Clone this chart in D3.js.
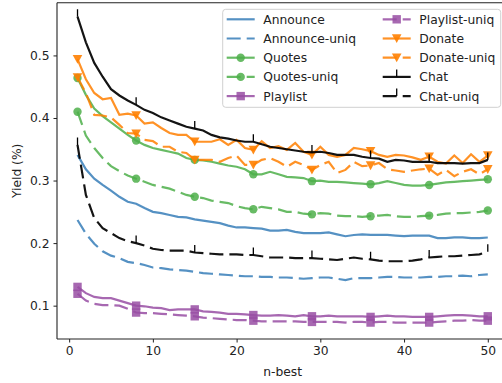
<!DOCTYPE html>
<html><head><meta charset="utf-8">
<script src="https://cdn.jsdelivr.net/npm/d3@7"></script>
<style>body{margin:0;background:#fff}svg{display:block;font-family:"DejaVu Sans",sans-serif}</style>
</head><body><svg id="c" width="502" height="383"></svg>
<script>
const nBest = [1,2,3,4,5,6,7,8,9,10,11,12,13,14,15,16,17,18,19,20,21,22,23,24,25,26,27,28,29,30,31,32,33,34,35,36,37,38,39,40,41,42,43,44,45,46,47,48,49,50];
const xTicks = [0,10,20,30,40,50];
const yTicks = [0.1,0.2,0.3,0.4,0.5];
const announce = [0.341,0.318,0.303,0.293,0.284,0.274,0.266,0.263,0.256,0.250,0.248,0.245,0.242,0.241,0.238,0.236,0.234,0.232,0.228,0.225,0.225,0.224,0.223,0.220,0.220,0.221,0.218,0.216,0.216,0.216,0.217,0.214,0.211,0.213,0.214,0.213,0.213,0.213,0.212,0.211,0.212,0.212,0.212,0.208,0.208,0.209,0.209,0.208,0.208,0.209];
const announceUniq = [0.237,0.215,0.199,0.187,0.180,0.176,0.170,0.168,0.165,0.161,0.160,0.158,0.157,0.156,0.154,0.152,0.151,0.150,0.149,0.148,0.147,0.147,0.146,0.146,0.145,0.145,0.144,0.143,0.144,0.145,0.145,0.143,0.141,0.144,0.144,0.144,0.145,0.146,0.146,0.145,0.145,0.145,0.146,0.146,0.147,0.147,0.148,0.147,0.149,0.150];
const quotes = [0.464,0.437,0.415,0.403,0.393,0.383,0.373,0.364,0.357,0.352,0.349,0.346,0.343,0.336,0.333,0.332,0.330,0.327,0.324,0.322,0.318,0.310,0.310,0.314,0.310,0.306,0.305,0.304,0.299,0.300,0.298,0.298,0.297,0.296,0.295,0.294,0.296,0.299,0.296,0.293,0.292,0.292,0.293,0.295,0.297,0.298,0.299,0.300,0.301,0.302];
const quotesUniq = [0.410,0.372,0.352,0.336,0.323,0.315,0.308,0.303,0.298,0.293,0.290,0.287,0.282,0.277,0.274,0.272,0.268,0.266,0.264,0.259,0.256,0.254,0.258,0.256,0.254,0.250,0.250,0.247,0.246,0.248,0.247,0.244,0.243,0.243,0.242,0.243,0.244,0.245,0.243,0.242,0.242,0.243,0.244,0.245,0.247,0.248,0.248,0.249,0.250,0.252];
const playlist = [0.130,0.120,0.114,0.112,0.112,0.108,0.104,0.100,0.099,0.097,0.096,0.093,0.094,0.094,0.094,0.091,0.090,0.089,0.087,0.087,0.086,0.085,0.084,0.084,0.085,0.084,0.083,0.085,0.083,0.083,0.084,0.083,0.083,0.083,0.083,0.082,0.083,0.084,0.083,0.083,0.082,0.082,0.082,0.083,0.084,0.085,0.085,0.084,0.083,0.083];
const playlistUniq = [0.119,0.108,0.103,0.101,0.101,0.100,0.095,0.089,0.088,0.088,0.087,0.086,0.085,0.084,0.083,0.081,0.080,0.079,0.078,0.077,0.077,0.076,0.075,0.075,0.075,0.075,0.075,0.074,0.074,0.074,0.074,0.074,0.073,0.074,0.074,0.073,0.074,0.074,0.073,0.073,0.073,0.073,0.073,0.074,0.075,0.076,0.076,0.077,0.076,0.076];
const donate = [0.494,0.462,0.440,0.430,0.432,0.405,0.407,0.404,0.391,0.393,0.384,0.376,0.373,0.373,0.362,0.362,0.362,0.366,0.357,0.365,0.352,0.349,0.363,0.352,0.355,0.349,0.360,0.346,0.341,0.354,0.341,0.338,0.341,0.352,0.350,0.347,0.341,0.338,0.341,0.340,0.337,0.333,0.338,0.330,0.327,0.340,0.328,0.342,0.330,0.340];
const donateUniq = [0.465,0.440,0.405,0.404,0.401,0.389,0.376,0.375,0.365,0.363,0.354,0.354,0.346,0.344,0.333,0.333,0.333,0.330,0.336,0.340,0.325,0.325,0.333,0.336,0.330,0.322,0.330,0.325,0.317,0.325,0.330,0.312,0.317,0.330,0.323,0.324,0.328,0.318,0.316,0.314,0.316,0.318,0.319,0.309,0.317,0.307,0.314,0.318,0.310,0.318];
const chat = [0.562,0.521,0.488,0.466,0.446,0.436,0.428,0.421,0.413,0.408,0.401,0.396,0.391,0.386,0.383,0.380,0.373,0.369,0.367,0.364,0.362,0.362,0.358,0.354,0.352,0.350,0.348,0.346,0.345,0.346,0.344,0.341,0.341,0.341,0.338,0.336,0.335,0.330,0.333,0.332,0.330,0.330,0.330,0.328,0.328,0.328,0.327,0.328,0.328,0.333];
const chatUniq = [0.357,0.277,0.240,0.224,0.216,0.208,0.203,0.200,0.196,0.191,0.189,0.188,0.188,0.188,0.185,0.184,0.183,0.182,0.182,0.182,0.181,0.181,0.179,0.177,0.177,0.177,0.176,0.176,0.176,0.175,0.174,0.173,0.175,0.177,0.175,0.174,0.172,0.171,0.171,0.171,0.172,0.174,0.177,0.178,0.179,0.179,0.180,0.181,0.182,0.186];

const seriesNames = ["Announce","Announce-uniq","Quotes","Quotes-uniq","Playlist","Playlist-uniq","Donate","Donate-uniq","Chat","Chat-uniq"];
const seriesValues = [announce,announceUniq,quotes,quotesUniq,playlist,playlistUniq,donate,donateUniq,chat,chatUniq];
const seriesColors = ["#377eb8","#377eb8","#4daf4a","#4daf4a","#984ea3","#984ea3","#ff7f00","#ff7f00","#000000","#000000"];
const seriesMarkers = ["none","none","circle","circle","square","square","tridown","tridown","tickup","tickup"];
const seriesDashed = [false,true,false,true,false,true,false,true,false,true];

const svg = d3.select("#c");
const L=57, R=508.3, T=2.7, B=339;
const x = d3.scaleLinear().domain([-1.45,52.45]).range([L,R]);
const y = d3.scaleLinear().domain([0.0467,0.5843]).range([B,T]);

svg.append("defs").append("clipPath").attr("id","clip").append("rect")
  .attr("x",L).attr("y",T).attr("width",R-L).attr("height",B-T);

// axes
const xAxis = svg.append("g").attr("transform",`translate(0,${B})`)
  .call(d3.axisBottom(x).tickValues(xTicks).tickFormat(d3.format("d")).tickSize(3.5).tickPadding(4));
const yAxis = svg.append("g").attr("transform",`translate(${L},0)`)
  .call(d3.axisLeft(y).tickValues(yTicks).tickFormat(d3.format(".1f")).tickSize(3.5).tickPadding(4));
[xAxis,yAxis].forEach(a=>{
  a.select(".domain").remove();
  a.selectAll("line").attr("stroke","#222").attr("stroke-width",1);
  a.selectAll("text").attr("font-size","12.3px").attr("fill","#222").attr("font-family","DejaVu Sans");
});
// spines
const sp = svg.append("g").attr("stroke","#222").attr("stroke-width",1.1).attr("fill","none");
sp.append("line").attr("x1",L).attr("x2",L).attr("y1",T).attr("y2",B);
sp.append("line").attr("x1",L).attr("x2",R).attr("y1",B).attr("y2",B);
sp.append("line").attr("x1",L).attr("x2",R).attr("y1",T).attr("y2",T);
sp.append("line").attr("x1",R).attr("x2",R).attr("y1",T).attr("y2",B);

svg.append("text").attr("x",(L+R)/2).attr("y",376).attr("text-anchor","middle")
  .attr("font-size","12.3px").attr("fill","#222").text("n-best");
svg.append("text").attr("transform",`translate(21,${(T+B)/2}) rotate(-90)`).attr("text-anchor","middle")
  .attr("font-size","12.3px").attr("fill","#222").text("Yield (%)");

function drawMarker(g, type, cx, cy, color){
  if(type==="circle") g.append("circle").attr("cx",cx).attr("cy",cy).attr("r",4.2).attr("fill",color).attr("opacity",0.85);
  else if(type==="square") g.append("rect").attr("x",cx-4.2).attr("y",cy-4.2).attr("width",8.4).attr("height",8.4).attr("fill",color).attr("opacity",0.85);
  else if(type==="tridown") g.append("path").attr("d",`M${cx-4.8},${cy-4.2}L${cx+4.8},${cy-4.2}L${cx},${cy+4.6}Z`).attr("fill",color).attr("opacity",0.9);
  else if(type==="tickup") g.append("line").attr("x1",cx).attr("x2",cx).attr("y1",cy).attr("y2",cy-7.5).attr("stroke",color).attr("stroke-width",1.3);
}

const plot = svg.append("g").attr("clip-path","url(#clip)");
const line = d3.line().x((d,i)=>x(nBest[i])).y(d=>y(d));
seriesValues.forEach((vals,s)=>{
  const g = plot.append("g");
  g.append("path").datum(vals).attr("d",line).attr("fill","none")
    .attr("stroke",seriesColors[s]).attr("stroke-width",2.2)
    .attr("stroke-opacity", s>=8?0.92:0.85)
    .attr("stroke-dasharray",seriesDashed[s]?"14,6":null);
  vals.forEach((v,i)=>{ if(i%7===0) drawMarker(g,seriesMarkers[s],x(nBest[i]),y(v),seriesColors[s]); });
});

// legend
const lg = svg.append("g");
lg.append("rect").attr("x",222.7).attr("y",9.3).attr("width",278).attr("height",98).attr("rx",3)
  .attr("fill","#fff").attr("fill-opacity",0.8).attr("stroke","#d0d0d0").attr("stroke-width",1);
seriesNames.forEach((name,s)=>{
  const col = Math.floor(s/5), row = s%5;
  const hx = col===0?226.7:382.7, tx = col===0?263.3:419.3;
  const cy = 19.3 + row*19.2;
  lg.append("line").attr("x1",hx).attr("x2",hx+28).attr("y1",cy).attr("y2",cy)
    .attr("stroke",seriesColors[s]).attr("stroke-width",2.2).attr("stroke-opacity",s>=8?0.92:0.85)
    .attr("stroke-dasharray",seriesDashed[s]?"14,6":null);
  drawMarker(lg,seriesMarkers[s],hx+14,cy,seriesColors[s]);
  lg.append("text").attr("x",tx).attr("y",cy+4.4).attr("font-size","12.3px").attr("fill","#222").text(name);
});
</script></body></html>
